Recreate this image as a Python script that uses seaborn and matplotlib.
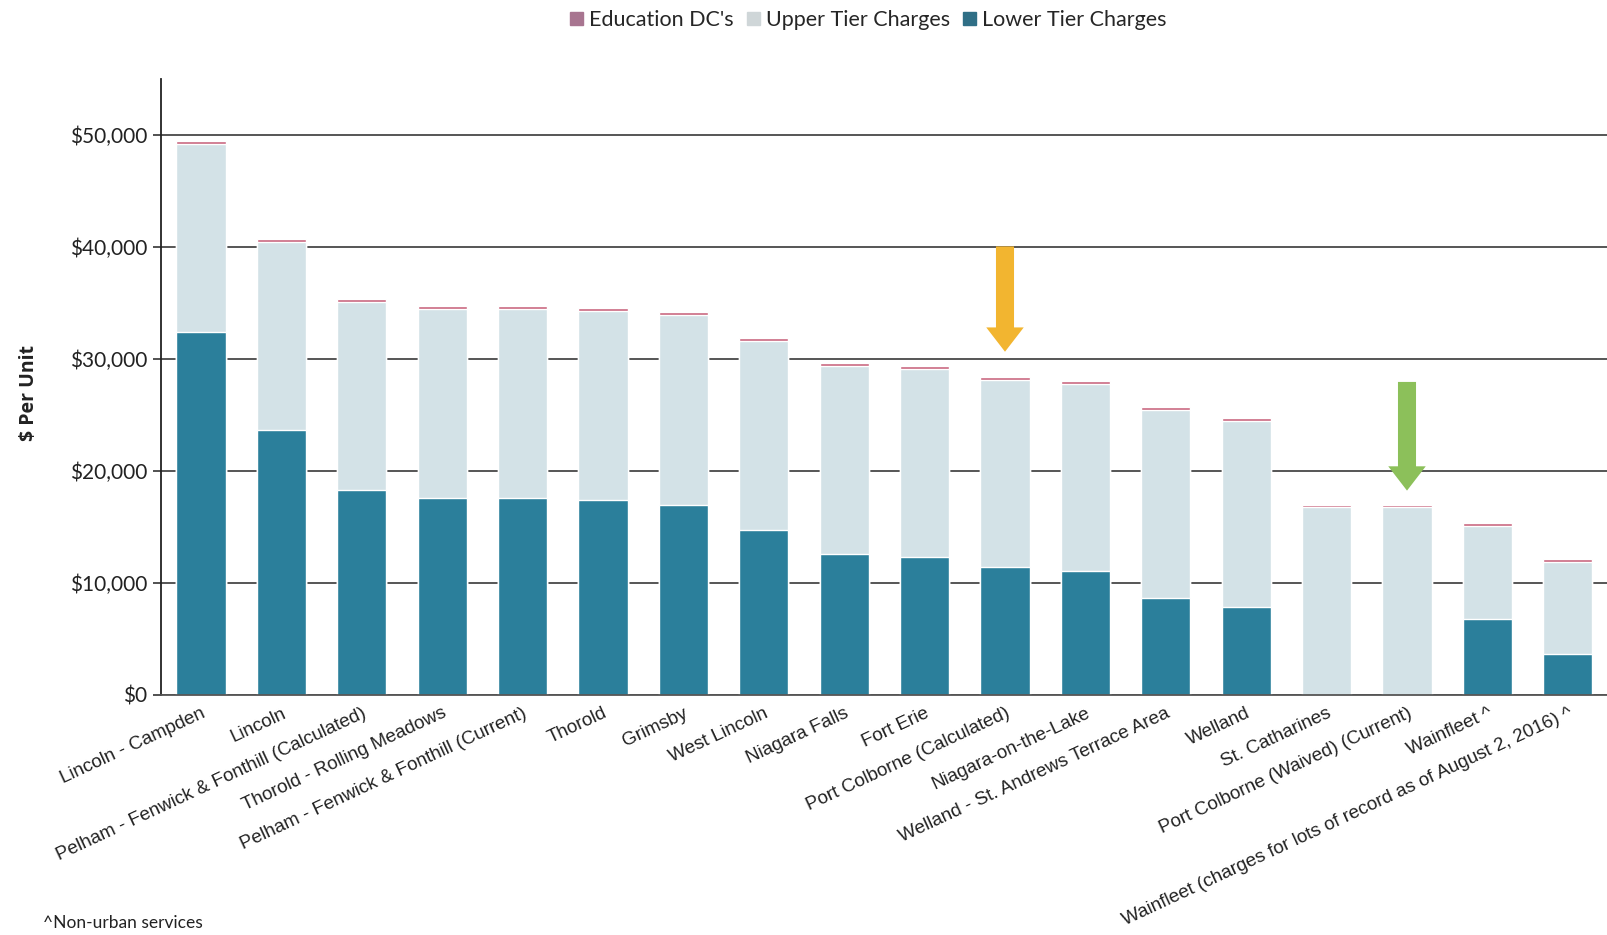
import numpy as np
import pandas as pd
import matplotlib
matplotlib.use("Agg")
import matplotlib.pyplot as plt
from matplotlib.patches import Patch
import seaborn as sns

sns.set_theme(style="white")

# data ($ per unit)
areas = ["Lincoln - Campden", "Lincoln", "Pelham - Fenwick & Fonthill (Calculated)",
         "Thorold - Rolling Meadows", "Pelham - Fenwick & Fonthill (Current)", "Thorold",
         "Grimsby", "West Lincoln", "Niagara Falls", "Fort Erie",
         "Port Colborne (Calculated)", "Niagara-on-the-Lake",
         "Welland - St. Andrews Terrace Area", "Welland", "St. Catharines",
         "Port Colborne (Waived) (Current)", "Wainfleet ^",
         "Wainfleet (charges for lots of record as of August 2, 2016) ^"]
lower_tier = [32450, 23700, 18300, 17550, 17550, 17450, 17000, 14750, 12600, 12350,
              11450, 11050, 8700, 7850, 0, 0, 6750, 3650]
upper_tier = [16750, 16750, 16800, 16900, 16900, 16850, 16950, 16900, 16750, 16750,
              16650, 16750, 16750, 16600, 16750, 16750, 8350, 8250]
education = [250, 250, 250, 250, 250, 250, 250, 250, 250, 250,
             250, 250, 250, 250, 250, 250, 250, 250]

df = pd.DataFrame({"area": areas, "lower": lower_tier, "upper": upper_tier, "edu": education})
df["lower_upper"] = df["lower"] + df["upper"]
df["total"] = df["lower_upper"] + df["edu"]

c_lower = "#2b7f9b"
c_upper = "#d3e2e7"
c_edu = "#c9657e"

fig = plt.figure(figsize=(16.08, 9.35), dpi=100)
ax = fig.add_axes([0.100, 0.2567, 0.90, 0.6588])

sns.barplot(data=df, x="area", y="total", color=c_edu, width=0.61, saturation=1, ax=ax)
sns.barplot(data=df, x="area", y="lower_upper", color=c_upper, width=0.61, saturation=1, ax=ax)
sns.barplot(data=df, x="area", y="lower", color=c_lower, width=0.61, saturation=1, ax=ax)

ax.set_xlim(-0.5, len(areas) - 0.5)
ax.set_ylim(0, 55000)
ax.set_yticks(np.arange(0, 50001, 10000))
ax.set_yticklabels([f"${v:,.0f}" for v in range(0, 50001, 10000)],
                   fontsize=15, family="Lato", color="#222222")
ax.yaxis.grid(True, color="#555555", linewidth=1.4)
ax.set_axisbelow(True)

ax.set_xticks(np.arange(len(areas)))
ax.set_xticklabels(areas, rotation=25, ha="right", rotation_mode="anchor",
                   fontsize=13.6, family="Liberation Sans", color="#222222")
ax.set_xticks(np.arange(len(areas) + 1) - 0.5, minor=True)
ax.tick_params(axis="x", which="major", length=0, pad=7)
ax.tick_params(axis="x", which="minor", length=6, width=1.2, color="#333333", direction="out")
ax.tick_params(axis="y", length=6, width=1.2, color="#333333", direction="out", left=True)

for s in ["top", "right"]:
    ax.spines[s].set_visible(False)
ax.spines["left"].set_color("#222222")
ax.spines["bottom"].set_color("#555555")
ax.spines["left"].set_linewidth(1.3)
ax.spines["bottom"].set_linewidth(1.3)
ax.set_xlabel("")
ax.set_ylabel("")

# arrows marking Port Colborne bars
arrow_style = "simple,head_width=1.08,head_length=0.7,tail_width=0.52"
ax.annotate("", xy=(10, 30400), xytext=(10, 40300),
            arrowprops=dict(arrowstyle=arrow_style, mutation_scale=25, color="#f2b530", lw=0))
ax.annotate("", xy=(15, 18000), xytext=(15, 28200),
            arrowprops=dict(arrowstyle=arrow_style, mutation_scale=25, color="#8cc05a", lw=0))

fig.text(0.018, 0.58, "$ Per Unit", rotation=90, ha="center", va="center",
         fontsize=14, fontweight="bold", family="Open Sans", color="#222222")

handles = [Patch(color="#a87590", label="Education DC's"),
           Patch(color="#cfd6d8", label="Upper Tier Charges"),
           Patch(color="#2f6f86", label="Lower Tier Charges")]
fig.legend(handles=handles, loc="upper center", bbox_to_anchor=(0.54, 1.01), ncol=3,
           frameon=False, handlelength=0.6, handleheight=0.6, handletextpad=0.3,
           columnspacing=0.6, prop={"family": "Lato", "size": 15.5})

fig.text(0.027, 0.004, "^Non-urban services", ha="left", va="bottom",
         fontsize=12.5, family="Lato", color="#222222")

fig.savefig("out.png", dpi=100)
